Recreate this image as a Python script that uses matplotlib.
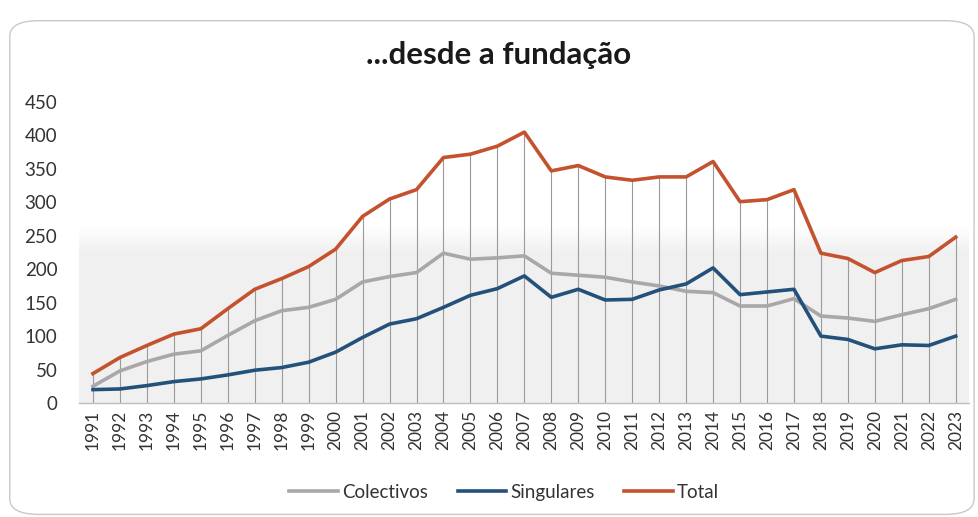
import matplotlib
matplotlib.use("Agg")
import matplotlib.pyplot as plt
import numpy as np
from matplotlib.patches import FancyBboxPatch

years = [str(y) for y in range(1991, 2024)]
colectivos = [25, 48, 62, 73, 78, 101, 123, 138, 143, 155, 181, 189, 195, 224, 215, 217, 220,
              194, 191, 188, 181, 175, 167, 165, 145, 145, 156, 130, 127, 122, 132, 141, 155]
singulares = [20, 21, 26, 32, 36, 42, 49, 53, 61, 76, 98, 118, 126, 143, 161, 171, 190,
              158, 170, 154, 155, 169, 178, 202, 162, 166, 170, 100, 95, 81, 87, 86, 100]
total = [44, 68, 86, 103, 111, 141, 170, 186, 204, 230, 279, 305, 319, 367, 372, 384, 405,
         347, 355, 338, 333, 338, 338, 361, 301, 304, 319, 224, 216, 195, 213, 219, 248]
yticks = [0, 50, 100, 150, 200, 250, 300, 350, 400, 450]

plt.rcParams['font.family'] = ['Lato', 'DejaVu Sans']

fig = plt.figure(figsize=(9.79, 5.17), dpi=100)
border = FancyBboxPatch((0.010, 0.005), 0.985, 0.955, boxstyle="round,pad=0,rounding_size=0.03",
                        transform=fig.transFigure, facecolor='white', edgecolor='#c8c8c8',
                        linewidth=1.0, zorder=-10)
fig.patches.append(border)

ax = fig.add_axes([0.0812, 0.2205, 0.9088, 0.5822])
ax.set_facecolor('none')
x = list(range(len(years)))

# soft shaded background (fading towards the top)
yy = np.linspace(0, 450, 451)
alpha = np.clip((265 - yy) / 40.0, 0, 1)
grad = np.ones((451, 2, 4))
grad[..., 0] = 0.945
grad[..., 1] = 0.945
grad[..., 2] = 0.945
grad[..., 3] = alpha[:, None]
ax.imshow(grad, extent=(-0.5, len(years) - 0.5, 0, 450), origin='lower', aspect='auto', zorder=0,
          interpolation='bilinear')

ax.vlines(x, 0, total, colors='#9a9a9a', linewidth=0.8, zorder=1)

ax.plot(x, colectivos, color='#aba6a8', linewidth=2.6, label='Colectivos', zorder=3, solid_joinstyle='round')
ax.plot(x, singulares, color='#24517a', linewidth=2.6, label='Singulares', zorder=4, solid_joinstyle='round')
ax.plot(x, total, color='#c4522e', linewidth=2.6, label='Total', zorder=5, solid_joinstyle='round')

ax.set_xlim(-0.5, len(years) - 0.5)
ax.set_ylim(0, 450)
ax.set_yticks(yticks)
ax.set_yticklabels([str(v) for v in yticks], fontsize=13.5, color='#333333')
ax.set_xticks(x)
ax.set_xticklabels(years, rotation=90, fontsize=12.5, color='#333333')
ax.tick_params(axis='y', length=0, pad=16)
ax.tick_params(axis='x', length=0, pad=5)
for s in ['top', 'right', 'left']:
    ax.spines[s].set_visible(False)
ax.spines['bottom'].set_color('#bfbfbf')
ax.spines['bottom'].set_linewidth(1.0)

fig.text(0.509, 0.893, '...desde a fundação', ha='center', va='center', fontsize=22.5,
         fontweight='bold', color='#1a1a1a')

leg = fig.legend(loc='center', bbox_to_anchor=(0.515, 0.048), ncol=3, frameon=False,
                 fontsize=13.5, handlelength=2.6, handletextpad=0.2, columnspacing=1.6)
for t in leg.get_texts():
    t.set_color('#333333')

fig.savefig('out.png', dpi=100)
